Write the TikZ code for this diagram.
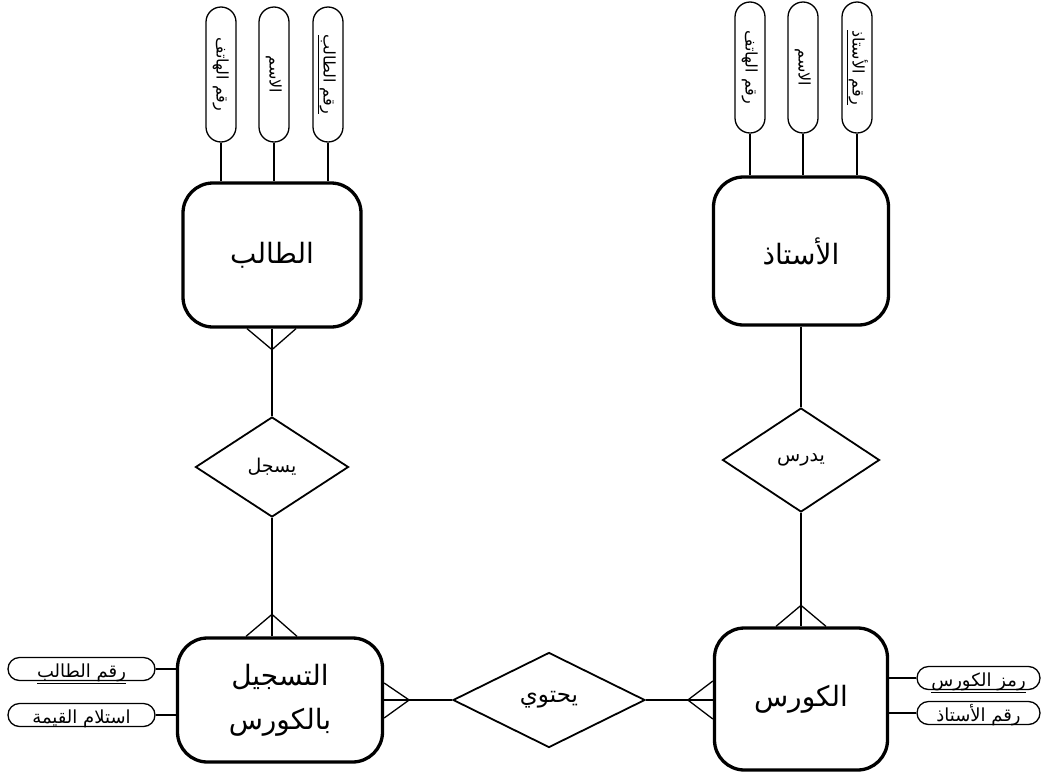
\documentclass[tikz,border=0pt]{standalone}
\usepackage{fontspec}
\TeXXeTstate=1
\newfontfamily\arabicfont[Script=Arabic]{DejaVu Sans}
\usetikzlibrary{shapes.geometric,shapes.misc,calc}
\newcommand{\ar}[1]{{\arabicfont\beginR #1\endR}}
\newcommand{\aru}[1]{\underline{\hbox{\arabicfont\beginR #1\endR}}}
\begin{document}
\begin{tikzpicture}[x=1pt,y=-1pt,
  entity/.style={draw,line width=3.3pt,rounded corners=30pt,fill=white,align=center,inner sep=0pt,font=\fontsize{28}{44}\selectfont},
  rel/.style={draw,diamond,line width=1.8pt,inner sep=0pt,fill=white},
  attrv/.style={draw,line width=1.3pt,rounded rectangle,minimum width=135pt,minimum height=30pt,inner sep=0pt,text height=12pt,text depth=3pt,rotate=-90,fill=white,font=\fontsize{16}{18}\selectfont},
  attrh/.style={draw,line width=1.3pt,rounded rectangle,minimum height=23pt,inner sep=0pt,text height=17pt,text depth=0pt,fill=white,font=\fontsize{18}{20}\selectfont},
  conn/.style={line width=1.3pt}]
\useasboundingbox (0,0) rectangle (1044,774);
\fill[white] (0,0) rectangle (1044,774);
% entities
\node[entity,minimum width=178pt,minimum height=144pt] (st) at (272,255) {\ar{الطالب}};
\node[entity,minimum width=175pt,minimum height=148pt] (te) at (801,251) {\ar{الأستاذ}};
\node[entity,minimum width=205pt,minimum height=124pt] (rg) at (280,700) {\ar{التسجيل}\\\ar{بالكورس}};
\node[entity,minimum width=173pt,minimum height=142pt] (co) at (801,699) {\ar{الكورس}};
% relationships
\node[rel,minimum width=153pt,minimum height=100pt,font=\fontsize{19}{21}\selectfont] (d1) at (272,467) {\ar{يسجل}};
\node[rel,minimum width=192pt,minimum height=95pt,font=\fontsize{23}{25}\selectfont] (d2) at (549,700) {\ar{يحتوي}};
\node[rel,minimum width=157pt,minimum height=104pt,font=\fontsize{19}{21}\selectfont] (d3) at (801,460) {\ar{يدرس}};
% student attributes
\node[attrv] (sa1) at (221,74.5) {\ar{رقم الهاتف}};
\node[attrv] (sa2) at (274,74.5) {\ar{الاسم}};
\node[attrv] (sa3) at (328,74.5) {\aru{رقم الطالب}};
% teacher attributes
\node[attrv,minimum width=131pt] (ta1) at (750,67.5) {\ar{رقم الهاتف}};
\node[attrv,minimum width=131pt] (ta2) at (803,67.5) {\ar{الاسم}};
\node[attrv,minimum width=131pt] (ta3) at (857,67.5) {\aru{رقم الأستاذ}};
% registration attributes
\node[attrh,minimum width=147pt] (ra1) at (81.5,669) {\aru{رقم الطالب}};
\node[attrh,minimum width=147pt] (ra2) at (81.5,715) {\ar{استلام القيمة}};
% course attributes
\node[attrh,minimum width=123pt] (ca1) at (978.5,678) {\aru{رمز الكورس}};
\node[attrh,minimum width=123pt] (ca2) at (978.5,713) {\ar{رقم الأستاذ}};
% attribute connectors
\foreach \a in {sa1,sa2,sa3}{\draw[conn] (\a.east) -- (\a.east |- st.north);}
\foreach \a in {ta1,ta2,ta3}{\draw[conn] (\a.east) -- (\a.east |- te.north);}
\foreach \a in {ra1,ra2}{\draw[conn] (\a.east) -- (\a.east -| rg.west);}
\foreach \a in {ca1,ca2}{\draw[conn] (\a.west) -- (\a.west -| co.east);}
% relationship connectors
\draw[conn] (st.south) -- (d1.north);
\draw[conn] ($(st.south)+(-25,0)$) -- ($(st.south)+(0,21)$) -- ($(st.south)+(24,0)$);
\coordinate (rgtop) at (d1.south |- rg.north);
\draw[conn] (d1.south) -- (rgtop);
\draw[conn] ($(rgtop)+(-26,0)$) -- ($(rgtop)+(0,-22)$) -- ($(rgtop)+(25,0)$);
\draw[conn] (rg.east) -- (d2.west);
\draw[conn] ($(rg.east)+(0,-17)$) -- ($(rg.east)+(25,0)$) -- ($(rg.east)+(0,18)$);
\coordinate (coleft) at (d2.east -| co.west);
\draw[conn] (d2.east) -- (coleft);
\draw[conn] ($(coleft)+(0,-19)$) -- ($(coleft)+(-25,0)$) -- ($(coleft)+(0,19)$);
\draw[conn] (te.south) -- (d3.north);
\draw[conn] (d3.south) -- (co.north);
\draw[conn] ($(co.north)+(-25,0)$) -- ($(co.north)+(0,-21)$) -- ($(co.north)+(25,0)$);
\end{tikzpicture}
\end{document}
